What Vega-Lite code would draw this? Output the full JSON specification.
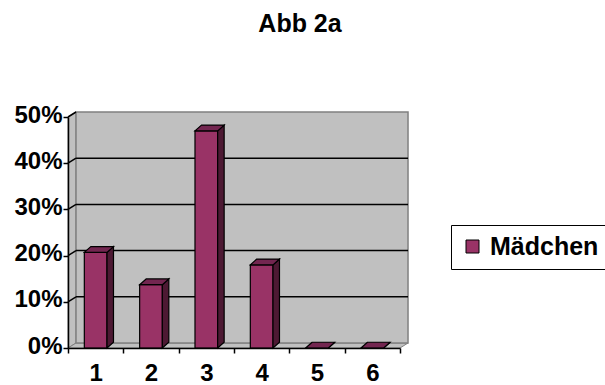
{
  "$schema": "https://vega.github.io/schema/vega-lite/v6.json",
  "width": 332,
  "height": 231,
  "autosize": "none",
  "padding": {"left": 68, "top": 117, "right": 205, "bottom": 37},
  "background": "white",
  "config": {
    "font": "Liberation Sans",
    "view": {"stroke": null},
    "axis": {
      "labelFont": "Liberation Sans",
      "labelFontSize": 24,
      "labelFontWeight": "bold",
      "labelColor": "black",
      "tickColor": "black",
      "tickWidth": 1.5,
      "tickSize": 5,
      "domainColor": "black",
      "domainWidth": 1.5,
      "grid": false
    }
  },
  "params": [
    {"name": "wallDx", "value": 0.145},
    {"name": "wallDy", "value": 0.0108},
    {"name": "halfW", "value": 0.205},
    {"name": "barDx", "value": 0.117},
    {"name": "barDy", "value": 0.0125}
  ],
  "title": {
    "text": "Abb 2a",
    "font": "Liberation Sans",
    "fontSize": 25,
    "fontWeight": "bold",
    "color": "black",
    "anchor": "middle",
    "dx": 66,
    "offset": 66
  },
  "datasets": {
    "anteile": [
      {"Gruppe": 1, "Anteil": 0.207, "Serie": "Mädchen"},
      {"Gruppe": 2, "Anteil": 0.137, "Serie": "Mädchen"},
      {"Gruppe": 3, "Anteil": 0.47, "Serie": "Mädchen"},
      {"Gruppe": 4, "Anteil": 0.18, "Serie": "Mädchen"},
      {"Gruppe": 5, "Anteil": 0, "Serie": "Mädchen"},
      {"Gruppe": 6, "Anteil": 0, "Serie": "Mädchen"}
    ],
    "skala": [{"v": 0}, {"v": 0.1}, {"v": 0.2}, {"v": 0.3}, {"v": 0.4}, {"v": 0.5}],
    "ebenen": [{"ebene": "vorn"}, {"ebene": "hinten"}]
  },
  "layer": [
    {
      "data": {"name": "ebenen"},
      "transform": [
        {"calculate": "datum.ebene == 'hinten' ? 1 : 0", "as": "t"},
        {"calculate": "0.5 + datum.t * wallDx", "as": "wx"},
        {"calculate": "datum.t * wallDy", "as": "wy"},
        {"calculate": "0.5 + datum.t * wallDy", "as": "wy2"}
      ],
      "mark": {"type": "area", "orient": "vertical", "fill": "#c0c0c0", "stroke": "#808080", "strokeWidth": 1},
      "encoding": {
        "x": {
          "field": "wx", "type": "quantitative", "title": null,
          "scale": {"domain": [0.5, 6.5], "nice": false, "zero": false},
          "axis": {
            "title": null,
            "values": [0.5, 1.5, 2.5, 3.5, 4.5, 5.5, 6.5],
            "labelExpr": "datum.value < 6 ? format(datum.value + 0.5, 'd') : ''",
            "labelOffset": 27.67,
            "labelFlush": false,
            "labelPadding": 8,
            "zindex": 1
          }
        },
        "y": {
          "field": "wy", "type": "quantitative", "title": null,
          "scale": {"domain": [0, 0.5], "nice": false, "zero": false},
          "axis": {
            "title": null,
            "values": [0, 0.1, 0.2, 0.3, 0.4, 0.5],
            "format": ".0%",
            "labelPadding": 1,
            "labelOffset": -2,
            "zindex": 1
          }
        },
        "y2": {"field": "wy2"}
      }
    },
    {
      "data": {"name": "ebenen"},
      "transform": [
        {"calculate": "datum.ebene == 'hinten' ? 1 : 0", "as": "t"},
        {"calculate": "0.5 + datum.t * wallDx", "as": "fx"},
        {"calculate": "6.5 + datum.t * wallDx", "as": "fx2"},
        {"calculate": "datum.t * wallDy", "as": "fy"}
      ],
      "mark": {"type": "area", "orient": "horizontal", "fill": "#c0c0c0", "stroke": "#808080", "strokeWidth": 1},
      "encoding": {
        "y": {"field": "fy", "type": "quantitative", "title": null},
        "x": {"field": "fx", "type": "quantitative", "title": null},
        "x2": {"field": "fx2"}
      }
    },
    {
      "data": {"name": "skala"},
      "transform": [
        {"filter": "datum.v == 0"},
        {"calculate": "0.5 + wallDx", "as": "bx"},
        {"calculate": "6.5 + wallDx", "as": "bx2"},
        {"calculate": "wallDy", "as": "by"},
        {"calculate": "0.5 + wallDy", "as": "by2"}
      ],
      "mark": {"type": "rect", "fill": "#c0c0c0", "stroke": "#808080", "strokeWidth": 1.5},
      "encoding": {
        "x": {"field": "bx", "type": "quantitative", "title": null},
        "x2": {"field": "bx2"},
        "y": {"field": "by", "type": "quantitative", "title": null},
        "y2": {"field": "by2"}
      }
    },
    {
      "data": {"name": "skala"},
      "transform": [
        {"filter": "datum.v > 0 && datum.v < 0.5"},
        {"calculate": "0.5 + wallDx", "as": "gx"},
        {"calculate": "6.5 + wallDx", "as": "gx2"},
        {"calculate": "datum.v + wallDy", "as": "gy"}
      ],
      "mark": {"type": "rule", "stroke": "black", "strokeWidth": 1.5},
      "encoding": {
        "x": {"field": "gx", "type": "quantitative", "title": null},
        "x2": {"field": "gx2"},
        "y": {"field": "gy", "type": "quantitative", "title": null}
      }
    },
    {
      "data": {"name": "skala"},
      "transform": [
        {"filter": "datum.v > 0"},
        {"calculate": "0.5", "as": "dx1"},
        {"calculate": "0.5 + wallDx", "as": "dx2"},
        {"calculate": "datum.v + wallDy", "as": "dy2"}
      ],
      "mark": {"type": "rule", "stroke": "black", "strokeWidth": 1.5},
      "encoding": {
        "x": {"field": "dx1", "type": "quantitative", "title": null},
        "x2": {"field": "dx2"},
        "y": {"field": "v", "type": "quantitative", "title": null},
        "y2": {"field": "dy2"}
      }
    },
    {
      "data": {"name": "anteile"},
      "transform": [
        {"calculate": "datum.Gruppe - halfW", "as": "links"},
        {"calculate": "datum.Gruppe + halfW", "as": "rechts"},
        {"calculate": "0", "as": "boden"}
      ],
      "mark": {"type": "rect", "stroke": "black", "strokeWidth": 1.2},
      "encoding": {
        "x": {"field": "links", "type": "quantitative", "title": null},
        "x2": {"field": "rechts"},
        "y": {"field": "Anteil", "type": "quantitative", "title": null},
        "y2": {"field": "boden"},
        "color": {
          "field": "Serie", "type": "nominal",
          "scale": {"domain": ["Mädchen"], "range": ["#993366"]},
          "legend": {
            "orient": "none",
            "legendX": 383,
            "legendY": 108,
            "title": null,
            "symbolType": "square",
            "symbolSize": 169,
            "symbolStrokeColor": "black",
            "symbolStrokeWidth": 1,
            "symbolOpacity": 1,
            "labelFont": "Liberation Sans",
            "labelFontWeight": "bold",
            "labelFontSize": 25,
            "labelColor": "black",
            "labelOffset": 5,
            "strokeColor": "black",
            "fillColor": "white",
            "padding": 9
          }
        }
      }
    },
    {
      "data": {"name": "anteile"},
      "transform": [
        {"calculate": "0", "as": "vorn"},
        {"calculate": "1", "as": "hinten"},
        {"fold": ["vorn", "hinten"], "as": ["ebene", "t"]},
        {"calculate": "datum.Gruppe + halfW + datum.t * barDx", "as": "sx"},
        {"calculate": "datum.t * barDy", "as": "sy"},
        {"calculate": "datum.Anteil + datum.t * barDy", "as": "sy2"}
      ],
      "mark": {"type": "area", "orient": "vertical", "fill": "#4d1933", "stroke": "black", "strokeWidth": 1.2},
      "encoding": {
        "x": {"field": "sx", "type": "quantitative", "title": null},
        "y": {"field": "sy", "type": "quantitative", "title": null},
        "y2": {"field": "sy2"},
        "detail": {"field": "Gruppe", "type": "nominal"}
      }
    },
    {
      "data": {"name": "anteile"},
      "transform": [
        {"calculate": "0", "as": "vorn"},
        {"calculate": "1", "as": "hinten"},
        {"fold": ["vorn", "hinten"], "as": ["ebene", "t"]},
        {"calculate": "datum.Gruppe - halfW + datum.t * barDx", "as": "tx"},
        {"calculate": "datum.Gruppe + halfW + datum.t * barDx", "as": "tx2"},
        {"calculate": "datum.Anteil + datum.t * barDy", "as": "ty"}
      ],
      "mark": {"type": "area", "orient": "horizontal", "fill": "#732650", "stroke": "black", "strokeWidth": 1.2},
      "encoding": {
        "y": {"field": "ty", "type": "quantitative", "title": null},
        "x": {"field": "tx", "type": "quantitative", "title": null},
        "x2": {"field": "tx2"},
        "detail": {"field": "Gruppe", "type": "nominal"}
      }
    }
  ]
}
